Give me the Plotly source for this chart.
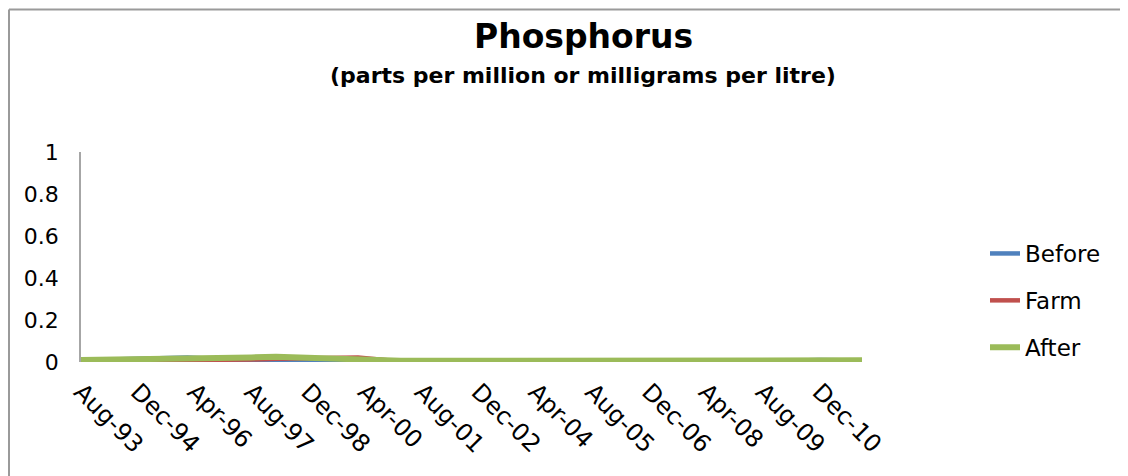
import plotly.graph_objects as go

# ---- data ----
dates = ["1993-08-01", "1994-12-01", "1996-02-01", "1997-08-01", "1998-03-01",
         "1999-01-01", "2000-02-01", "2001-02-01", "2002-12-01", "2004-04-01",
         "2005-08-01", "2006-12-01", "2008-04-01", "2009-08-01", "2010-12-01",
         "2011-12-01"]
before = [0.008, 0.014, 0.022, 0.006, 0.002, 0.004, 0.006, 0.004, 0.004, 0.004,
          0.004, 0.004, 0.004, 0.004, 0.010, 0.007]
farm = [0.004, 0.005, 0.008, 0.012, 0.015, 0.018, 0.022, 0.002, 0.003, 0.003,
        0.003, 0.003, 0.003, 0.003, 0.006, 0.005]
after = [0.009, 0.011, 0.015, 0.022, 0.025, 0.020, 0.014, 0.006, 0.006, 0.006,
         0.007, 0.006, 0.006, 0.006, 0.010, 0.008]
series_names = ["Before", "Farm", "After"]
series_colors = ["#4F81BD", "#C0504D", "#9BBB59"]
series_widths = [4.5, 4.5, 6]
y_ticks = [0, 0.2, 0.4, 0.6, 0.8, 1]
y_ticktext = ["0", "0.2", "0.4", "0.6", "0.8", "1"]

FONT = "DejaVu Sans, Liberation Sans, Arial, sans-serif"

fig = go.Figure()
for i, (name, vals) in enumerate(zip(series_names, [before, farm, after])):
    fig.add_trace(go.Scatter(
        x=dates, y=vals, mode="lines", name=name, legendgroup=name,
        line=dict(color=series_colors[i], width=series_widths[i]),
    ))

# page body adds an 8px margin, so the figure is 8px smaller
W, H = 1120, 468
L, R, T, B = 73, 266, 144, 114
pw = W - L - R
ph = H - T - B

def px2x(px):
    return (px - L) / pw

def py2y(py):
    return (H - B - py) / ph

fig.update_layout(
    width=W, height=H,
    margin=dict(l=L, r=R, t=T, b=B),
    paper_bgcolor="white", plot_bgcolor="white",
    font=dict(family=FONT, color="black"),
    showlegend=True,
    legend=dict(
        x=px2x(977), xanchor="left", y=py2y(224), yanchor="top",
        font=dict(size=23, family=FONT), tracegroupgap=14,
        bgcolor="rgba(0,0,0,0)", traceorder="grouped",
    ),
    xaxis=dict(
        type="date", range=[dates[0], dates[-1]],
        tick0="1993-08-01", dtick="M16", tickformat="%b-%y",
        tickangle=45, tickfont=dict(size=24, family=FONT),
        showgrid=False, zeroline=False, showline=False, ticks="",
        ticklabelstandoff=10,
    ),
    yaxis=dict(
        range=[0, 1], tickvals=y_ticks, ticktext=y_ticktext,
        tickfont=dict(size=22, family=FONT),
        showgrid=False, zeroline=False, showline=True,
        linecolor="#A6A6A6", linewidth=1.5, ticks="",
        ticklabelstandoff=16,
    ),
    annotations=[
        dict(text="<b>Phosphorus</b>", xref="paper", yref="paper",
             x=px2x(575), y=py2y(29), xanchor="center", yanchor="middle",
             showarrow=False, font=dict(size=33, family=FONT)),
        dict(text="<b>(parts per million or milligrams per litre)</b>",
             xref="paper", yref="paper", x=px2x(575), y=py2y(67),
             xanchor="center", yanchor="middle", showarrow=False,
             font=dict(size=22, family=FONT)),
    ],
    shapes=[
        dict(type="line", xref="paper", yref="paper",
             x0=px2x(1), x1=px2x(1125), y0=py2y(1.5), y1=py2y(1.5),
             line=dict(color="#9A9A9A", width=2)),
        dict(type="line", xref="paper", yref="paper",
             x0=px2x(1), x1=px2x(1), y0=py2y(1.5), y1=py2y(475),
             line=dict(color="#9A9A9A", width=2)),
    ],
)

fig.write_html("out.html")
